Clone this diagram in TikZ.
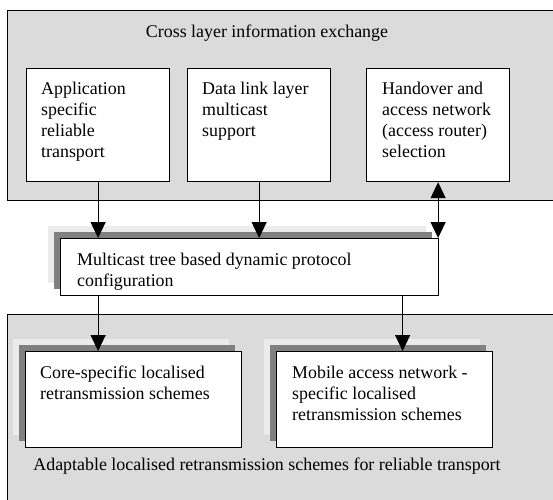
\documentclass[tikz,border=0pt]{standalone}
\usepackage{fontspec}
\setmainfont{Liberation Serif}
\usetikzlibrary{arrows.meta}
\definecolor{panelgrey}{gray}{0.86}
\definecolor{shadowlight}{gray}{0.92}
\definecolor{shadowdark}{gray}{0.50}
\begin{document}
\begin{tikzpicture}[x=1pt,y=-1pt,
  font=\fontsize{17.9}{21}\selectfont,
  panel/.style={draw=black, line width=1.2pt, fill=panelgrey, anchor=north west, inner sep=0pt},
  boxnode/.style={draw=black, line width=1.2pt, fill=white, anchor=north west, inner sep=0pt},
  txt/.style={anchor=north west, inner sep=0pt, align=left},
  lbl/.style={anchor=base, inner sep=0pt},
  arr/.style={line width=1.2pt, -{Triangle[length=16pt,width=15pt]}},
  dblarr/.style={line width=1.2pt, {Triangle[length=16pt,width=15pt]}-{Triangle[length=16pt,width=15pt]}}
]
\useasboundingbox (0,0) rectangle (553,499);
\clip (0,0) rectangle (553,499);

% outer panels
\node[panel, minimum width=560pt, minimum height=190pt] (cross) at (7,10) {};
\node[lbl] (crosslbl) at (267,37) {Cross layer information exchange};

\node[panel, minimum width=560pt, minimum height=200pt] (adapt) at (7,314) {};
\node[lbl] (adaptlbl) at (267,470) {Adaptable localised retransmission schemes for reliable transport};

% top row of boxes
\node[boxnode, minimum width=143pt, minimum height=113pt] (app) at (26,68) {};
\node[txt] (apptxt) at (41,80) {\rule{0pt}{14pt}Application\\specific\\reliable\\transport};

\node[boxnode, minimum width=143pt, minimum height=113pt] (dll) at (187,68) {};
\node[txt] (dlltxt) at (202,80) {\rule{0pt}{14pt}Data link layer\\multicast\\support};

\node[boxnode, minimum width=143pt, minimum height=113pt] (hand) at (366,68) {};
\node[txt] (handtxt) at (382,80) {\rule{0pt}{14pt}Handover and\\access network\\(access router)\\selection};

% middle box with layered shadow
\fill[shadowlight] (48,226) rectangle +(378,57);
\fill[shadowdark] (54,232) rectangle +(378,57);
\node[boxnode, minimum width=378pt, minimum height=57pt] (mtree) at (60,238) {};
\node[txt] (mtreetxt) at (77,251) {\rule{0pt}{14pt}Multicast tree based dynamic protocol\\configuration};

% bottom row of boxes with layered shadows
\fill[shadowlight] (13,339) rectangle +(216,96);
\fill[shadowdark] (19,345) rectangle +(216,96);
\node[boxnode, minimum width=216pt, minimum height=96pt] (core) at (25,351) {};
\node[txt] (coretxt) at (40,364) {\rule{0pt}{14pt}Core-specific localised\\retransmission schemes};

\fill[shadowlight] (264,339) rectangle +(216,96);
\fill[shadowdark] (270,345) rectangle +(216,96);
\node[boxnode, minimum width=216pt, minimum height=96pt] (mobile) at (276,351) {};
\node[txt] (mobiletxt) at (292,364) {\rule{0pt}{14pt}Mobile access network -\\specific localised\\retransmission schemes};

% connectors
\draw[arr] (app.south) -- (app.south |- mtree.north);
\draw[arr] (dll.south) -- (dll.south |- mtree.north);
\draw[dblarr] (hand.south) -- (hand.south |- mtree.north);
\draw[arr] (app.south |- mtree.south) -- (app.south |- core.north);
\draw[arr] ([xshift=153pt]mtree.south) -- ([xshift=18pt]mobile.north);
\end{tikzpicture}
\end{document}
